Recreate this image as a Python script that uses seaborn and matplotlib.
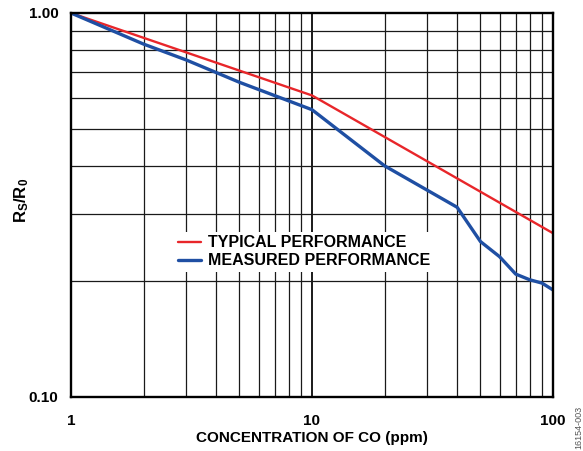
import matplotlib
matplotlib.use("Agg")
import matplotlib.pyplot as plt
import matplotlib.ticker as mticker
import seaborn as sns
import pandas as pd

# Data
typ_conc = [1, 10, 100]
typ_ratio = [1.00, 0.61, 0.267]

meas_conc = [1, 2, 3, 5, 10, 20, 40, 50, 60, 70, 80, 90, 100]
meas_ratio = [1.00, 0.83, 0.755, 0.66, 0.56, 0.40, 0.312, 0.254, 0.232, 0.209, 0.202, 0.198, 0.190]

series_names = ["TYPICAL PERFORMANCE", "MEASURED PERFORMANCE"]
series_colors = ["#e8262a", "#1f4fa3"]

x_ticks = [1, 10, 100]
x_ticklabels = ["1", "10", "100"]
y_ticks = [0.1, 1.0]
y_ticklabels = ["0.10", "1.00"]

df = pd.concat([
    pd.DataFrame({"conc": typ_conc, "ratio": typ_ratio, "series": series_names[0]}),
    pd.DataFrame({"conc": meas_conc, "ratio": meas_ratio, "series": series_names[1]}),
], ignore_index=True)

sns.set_theme(style="white")
plt.rcParams["font.family"] = ["Liberation Sans", "DejaVu Sans"]
plt.rcParams["font.weight"] = "bold"
plt.rcParams["text.color"] = "black"
plt.rcParams["axes.labelcolor"] = "black"
plt.rcParams["mathtext.fontset"] = "custom"
plt.rcParams["mathtext.bf"] = "Liberation Sans:bold"
plt.rcParams["mathtext.rm"] = "Liberation Sans:bold"

fig = plt.figure(figsize=(5.83, 4.51), dpi=100)
ax = fig.add_axes([71 / 583, 1 - 397 / 451, (553 - 71) / 583, (397 - 13) / 451])

ax.set_xscale("log")
ax.set_yscale("log")

# grid lines drawn first (below data)
for v in list(range(2, 10)) + list(range(20, 100, 10)):
    ax.axvline(v, color="#1a1a1a", lw=0.9, zorder=1)
ax.axvline(10, color="#1a1a1a", lw=1.4, zorder=1)
for h in [0.2, 0.3, 0.4, 0.5, 0.6, 0.7, 0.8, 0.9]:
    ax.axhline(h, color="#1a1a1a", lw=0.9, zorder=1)

sns.lineplot(data=df, x="conc", y="ratio", hue="series", palette=series_colors,
             hue_order=series_names, ax=ax, legend=True, zorder=3)
data_lines = [ln for ln in ax.get_lines() if len(ln.get_xdata()) > 2]
for ln in data_lines:
    if len(ln.get_xdata()) == len(meas_conc):
        ln.set_linewidth(2.4)
    else:
        ln.set_linewidth(1.7)

ax.set_xlim(1, 100)
ax.set_ylim(0.1, 1.0)
ax.xaxis.set_major_locator(mticker.FixedLocator(x_ticks))
ax.xaxis.set_minor_locator(mticker.NullLocator())
ax.yaxis.set_major_locator(mticker.FixedLocator(y_ticks))
ax.yaxis.set_minor_locator(mticker.NullLocator())
ax.set_xticklabels(x_ticklabels)
ax.set_yticklabels(y_ticklabels)
ax.tick_params(axis="both", length=0, labelsize=11, colors="black")
ax.tick_params(axis="x", pad=12)
ax.tick_params(axis="y", pad=9)
for lab in ax.get_xticklabels() + ax.get_yticklabels():
    lab.set_fontweight("bold")

for s in ax.spines.values():
    s.set_visible(True)
    s.set_color("black")
    s.set_linewidth(1.7)
    s.set_zorder(4)

ax.set_xlabel("CONCENTRATION OF CO (ppm)", fontsize=11, fontweight="bold", color="black")
ax.xaxis.set_label_coords(0.5, -(438 - 397) / 384, transform=ax.transAxes)
ax.xaxis.label.set_va("center")
ax.set_ylabel(r"$\mathbf{R_S/R_0}$", fontsize=12, color="black")
ax.yaxis.set_label_coords(-(71 - 22) / 482, 1 - (200 - 13) / 384, transform=ax.transAxes)
ax.yaxis.label.set_va("center")

handles, labels = ax.get_legend_handles_labels()
leg = ax.legend(handles, labels, loc="upper left", bbox_to_anchor=(104 / 482, 1 - 219 / 384),
                frameon=True, fancybox=False, framealpha=1.0, edgecolor="white",
                fontsize=11.5, handlelength=1.4, handletextpad=0.45, borderpad=0.2,
                labelspacing=0.2, borderaxespad=0)
leg.get_frame().set_linewidth(0)
leg.set_zorder(5)
for t in leg.get_texts():
    t.set_fontweight("bold")
    t.set_color("black")
for h, lw in zip(leg.get_lines(), [1.7, 2.4]):
    h.set_linewidth(lw)

fig.text(0.993, 0.005, "16154-003", rotation=90, fontsize=6.5, color="#555555",
         fontweight="normal", ha="center", va="bottom")

fig.savefig("out.png", dpi=100)
